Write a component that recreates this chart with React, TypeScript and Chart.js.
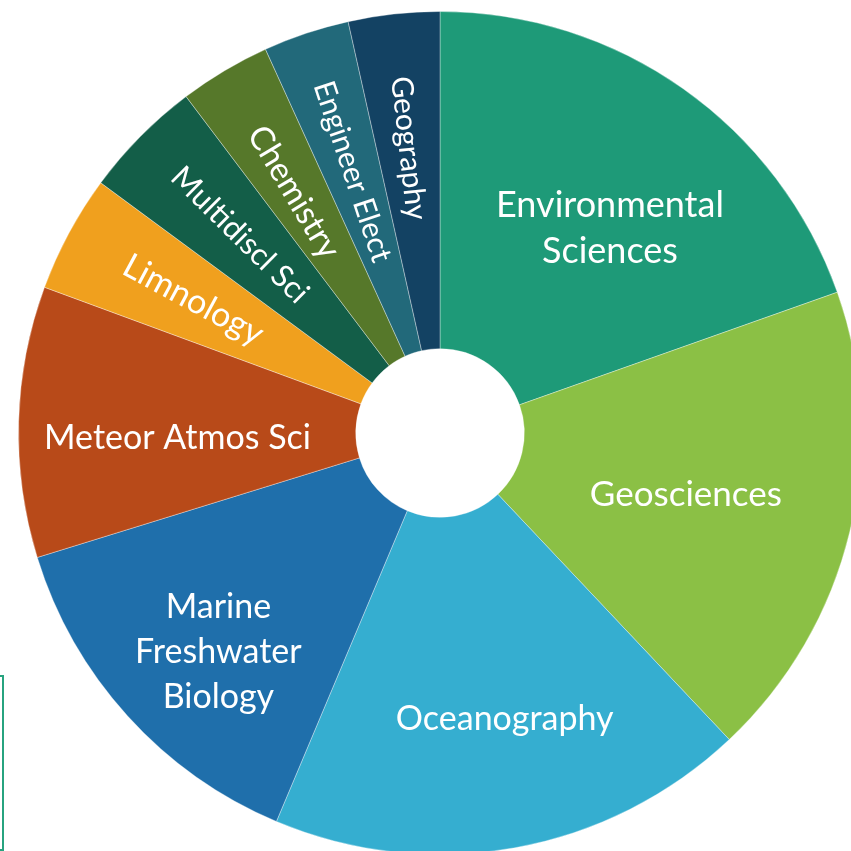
import React, { useEffect, useRef } from "react";
import { Chart, registerables } from "chart.js";

Chart.register(...registerables);

const categories: string[][] = [
  ["Environmental", "Sciences"],
  ["Geosciences"],
  ["Oceanography"],
  ["Marine", "Freshwater", "Biology"],
  ["Meteor Atmos Sci"],
  ["Limnology"],
  ["Multidiscl Sci"],
  ["Chemistry"],
  ["Engineer Elect"],
  ["Geography"],
];

const shares: number[] = [19.6, 18.4, 18.4, 13.9, 10.4, 4.5, 4.6, 3.5, 3.3, 3.5];

const sliceColors: string[] = [
  "#1e9a78",
  "#8bc045",
  "#35aed0",
  "#1f6fab",
  "#b84a19",
  "#f0a01e",
  "#135e48",
  "#56782a",
  "#22697a",
  "#134263",
];

// label styling (not data)
const labelRotated: boolean[] = [false, false, false, false, false, true, true, true, true, true];
const labelRadiusRatio: number[] = [0.633, 0.6, 0.69, 0.735, 0.623, 0.665, 0.668, 0.67, 0.654, 0.68];
const labelShiftX: number[] = [16, 0, 13, 8, 0, 0, 0, -2, 0, 0];
const labelShiftY: number[] = [13, 2, 0, 11, 12, 0, 0, 2, 0, 0];
const labelFontSize: number[] = [36, 35, 34, 34, 34, 34, 31, 33, 30, 30];
const labelLineHeight: number[] = [46, 46, 46, 45, 46, 46, 46, 46, 46, 46];
const FONT_FAMILY = "Lato, 'Noto Sans', sans-serif";

const sliceLabelPlugin = {
  id: "sliceLabels",
  afterDatasetsDraw(chart: any) {
    const ctx = chart.ctx;
    const meta = chart.getDatasetMeta(0);
    const lbls = chart.data.labels as string[][];
    meta.data.forEach((arc: any, i: number) => {
      const { x, y, startAngle, endAngle, outerRadius } = arc.getProps(
        ["x", "y", "startAngle", "endAngle", "outerRadius"],
        true
      );
      const mid = (startAngle + endAngle) / 2;
      const r = outerRadius * labelRadiusRatio[i];
      const cx = x + Math.cos(mid) * r + labelShiftX[i];
      const cy = y + Math.sin(mid) * r + labelShiftY[i];
      const lines = lbls[i];
      ctx.save();
      ctx.fillStyle = "#ffffff";
      ctx.font = `${labelFontSize[i]}px ${FONT_FAMILY}`;
      ctx.textAlign = "center";
      ctx.textBaseline = "middle";
      ctx.translate(cx, cy);
      if (labelRotated[i]) {
        ctx.rotate(mid + Math.PI);
      }
      const n = lines.length;
      lines.forEach((line, j) => {
        const dy = (j - (n - 1) / 2) * labelLineHeight[i];
        ctx.fillText(line, 0, dy);
      });
      ctx.restore();
    });
  },
};

export default function App() {
  const canvasRef = useRef<HTMLCanvasElement | null>(null);

  useEffect(() => {
    if (!canvasRef.current) return;
    const chart = new Chart(canvasRef.current, {
      type: "doughnut",
      data: {
        labels: categories as any,
        datasets: [
          {
            data: shares,
            backgroundColor: sliceColors,
            borderColor: "rgba(255,255,255,0.35)",
            borderWidth: 1,
          },
        ],
      },
      options: {
        animation: false,
        responsive: false,
        devicePixelRatio: 1,
        cutout: "20%",
        layout: { padding: 11 },
        plugins: {
          legend: { display: false },
          tooltip: { enabled: false },
        },
      },
      plugins: [sliceLabelPlugin],
    });
    return () => chart.destroy();
  }, []);

  return (
    <div
      style={{
        position: "fixed",
        left: 0,
        top: 0,
        width: 851,
        height: 851,
        overflow: "hidden",
        background: "#ffffff",
      }}
    >
      <canvas
        ref={canvasRef}
        width={880}
        height={866}
        style={{ position: "absolute", left: 0, top: 0, width: 880, height: 866, display: "block" }}
      />
      <div
        style={{
          position: "absolute",
          left: -20,
          top: 675,
          width: 20,
          height: 172,
          border: "2px solid #27a37f",
        }}
      />
    </div>
  );
}
